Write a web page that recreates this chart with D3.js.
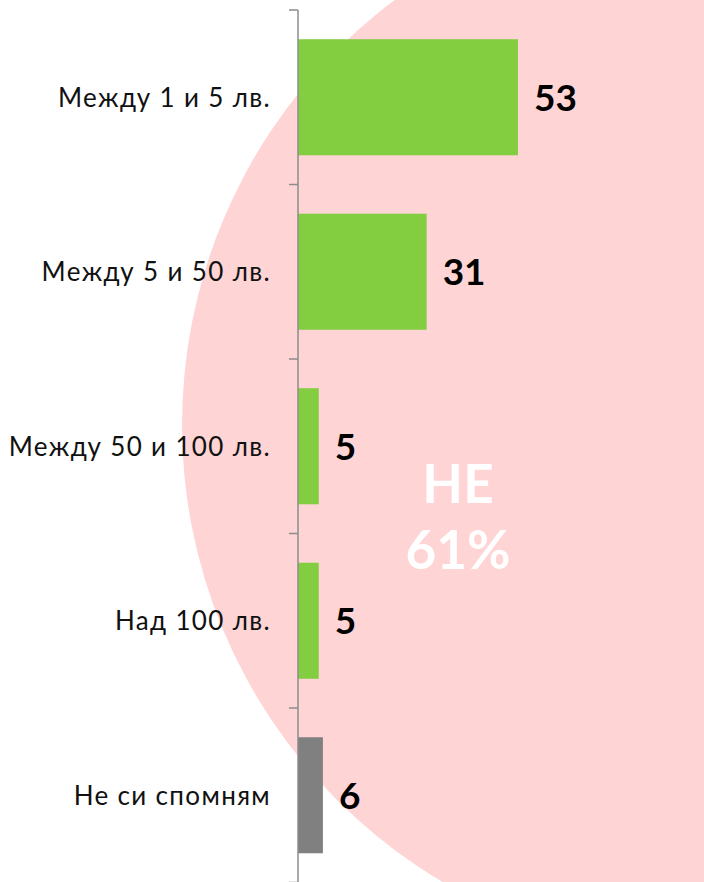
<!DOCTYPE html>
<html>
<head>
<meta charset="utf-8">
<script src="https://cdn.jsdelivr.net/npm/d3@7"></script>
<style>
  html, body { margin: 0; padding: 0; background: #fff; }
  svg { display: block; }
</style>
</head>
<body>
<div id="chart"></div>
<script>
// Survey answers: amounts spent (share of respondents, %)
const categories = ["Между 1 и 5 лв.", "Между 5 и 50 лв.", "Между 50 и 100 лв.", "Над 100 лв.", "Не си спомням"];
const values = [53, 31, 5, 5, 6];
const barColors = ["#82cd40", "#82cd40", "#82cd40", "#82cd40", "#808080"];
const calloutLines = ["НЕ", "61%"];

const W = 704, H = 882;
const axisX = 298;

const svg = d3.select("#chart").append("svg")
  .attr("width", W).attr("height", H);

// Background circle behind the bars
svg.append("circle")
  .attr("cx", 713).attr("cy", 425).attr("r", 531)
  .attr("fill", "#fed4d5");

const y = d3.scaleBand()
  .domain(categories)
  .range([10, 882.5])
  .paddingInner(0.335)
  .paddingOuter(0.1675);

const x = d3.scaleLinear()
  .domain([0, 100])
  .range([axisX, axisX + 415]);

// Bars
svg.append("g").selectAll("rect")
  .data(categories)
  .join("rect")
  .attr("x", x(0))
  .attr("y", d => y(d))
  .attr("width", (d, i) => x(values[i]) - x(0))
  .attr("height", y.bandwidth())
  .attr("fill", (d, i) => barColors[i]);

// Category axis with ticks between bands
const band = y.step();
const tickYs = d3.range(categories.length + 1).map(i => 10 + i * band);
const axisG = svg.append("g");
axisG.append("line")
  .attr("x1", axisX).attr("x2", axisX)
  .attr("y1", 10).attr("y2", H)
  .attr("stroke", "#8c8c8c").attr("stroke-width", 1.5);
axisG.selectAll("line.tick")
  .data(tickYs)
  .join("line")
  .attr("class", "tick")
  .attr("x1", axisX - 9).attr("x2", axisX)
  .attr("y1", d => d).attr("y2", d => d)
  .attr("stroke", "#8c8c8c").attr("stroke-width", 1.5);

// Category labels
svg.append("g").selectAll("text")
  .data(categories)
  .join("text")
  .attr("x", axisX - 27)
  .attr("y", d => y(d) + y.bandwidth() / 2)
  .attr("dy", "0.36em")
  .attr("text-anchor", "end")
  .attr("font-family", "Lato, 'DejaVu Sans', sans-serif")
  .attr("font-size", 26)
  .attr("letter-spacing", 1.35)
  .attr("fill", "#111")
  .text(d => d);

// Value labels
svg.append("g").selectAll("text")
  .data(categories)
  .join("text")
  .attr("x", (d, i) => x(values[i]) + 16)
  .attr("y", d => y(d) + y.bandwidth() / 2)
  .attr("dy", "0.36em")
  .attr("font-family", "Lato, sans-serif")
  .attr("font-weight", "bold")
  .attr("font-size", 37)
  .attr("fill", "#000")
  .text((d, i) => values[i]);

// Callout inside the circle
svg.append("g").selectAll("text")
  .data(calloutLines)
  .join("text")
  .attr("x", 458)
  .attr("y", (d, i) => 503 + i * 66)
  .attr("text-anchor", "middle")
  .attr("font-family", "Lato, sans-serif")
  .attr("font-weight", "bold")
  .attr("font-size", 53)
  .attr("fill", "#fff")
  .text(d => d);
</script>
</body>
</html>
